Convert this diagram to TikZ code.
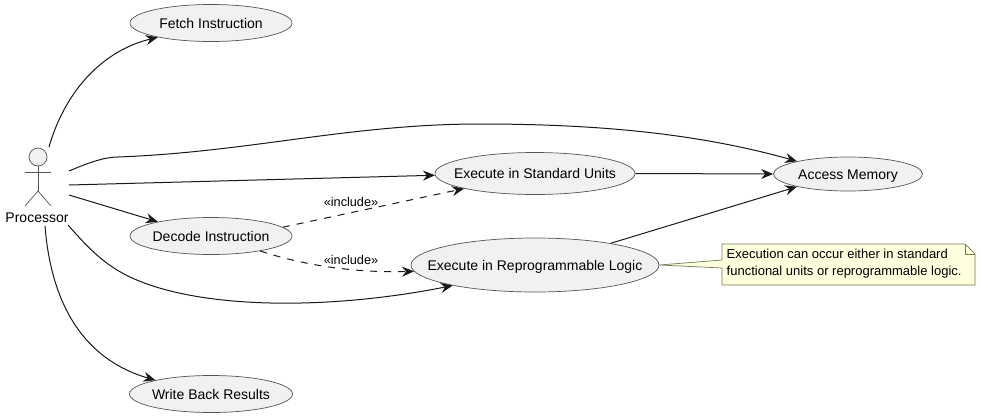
\documentclass[tikz,border=0pt]{standalone}
\usepackage{fontspec}
\setmainfont{Liberation Sans}
\usetikzlibrary{arrows.meta,shapes.geometric}
\definecolor{ucfill}{HTML}{F1F1F1}
\definecolor{ucline}{HTML}{555555}
\definecolor{notefill}{HTML}{FEFFDD}
\definecolor{noteline}{HTML}{777755}
\tikzset{
  usecase/.style={ellipse,draw=ucline,fill=ucfill,line width=0.7pt,inner sep=0pt,
    label={[inner sep=0pt,text height=10pt,text depth=0pt,font=\fontsize{14}{16}\selectfont,text=black]center:#1}},
  conn/.style={draw=black!90,line width=1pt,-{Stealth[length=12pt,width=10pt,inset=4pt]}},
  dconn/.style={conn,dash pattern=on 7pt off 7pt},
  stick/.style={draw=ucline,line width=0.7pt},
  lbl/.style={inner sep=0pt,font=\fontsize{12.7}{15}\selectfont,text=black},
}
\begin{document}
\begin{tikzpicture}[x=1pt,y=-1pt]
\useasboundingbox[fill=white] (0,0) rectangle (981,418);
% actor
\node[circle,draw=ucline,fill=ucfill,line width=0.7pt,minimum size=18pt,inner sep=0pt] (head) at (38,157) {};
\coordinate (hip) at (38,191);
\coordinate (armL) at (25,172);
\coordinate (armR) at (51,172);
\coordinate (legL) at (25,206);
\coordinate (legR) at (51,206);
\draw[stick] (head.south) -- (hip);
\draw[stick] (armL) -- (armR);
\draw[stick] (legL) -- (hip) -- (legR);
\node[inner sep=0pt,font=\fontsize{14}{16}\selectfont] (actor) at (37,217.5) {Processor};
% use cases
\node[usecase={Fetch Instruction},minimum width=162pt,minimum height=37pt] (fetch) at (211,23) {};
\node[usecase={Execute in Standard Units},minimum width=200pt,minimum height=42pt] (std) at (535,173.5) {};
\node[usecase={Access Memory},minimum width=149pt,minimum height=34pt] (mem) at (848,174) {};
\node[usecase={Decode Instruction},minimum width=162pt,minimum height=37pt] (decode) at (211,236) {};
\node[usecase={Execute in Reprogrammable Logic},minimum width=248pt,minimum height=54pt] (repro) at (535,265) {};
\node[usecase={Write Back Results},minimum width=163pt,minimum height=37pt] (wb) at (211,394) {};
% note
\coordinate (n1) at (722,244);
\coordinate (n2) at (965,244);
\coordinate (n3) at (975,254);
\coordinate (n4) at (975,285);
\coordinate (n5) at (722,285);
\coordinate (n6) at (722,268);
\coordinate (n7) at (722,260);
\draw[noteline,fill=notefill,line width=0.7pt,line join=round] (n1) -- (n2) -- (n3) -- (n4) -- (n5) -- (n6) -- (repro.east) -- (n7) -- cycle;
\draw[noteline,line width=0.7pt] (n2) -- (965,254) -- (n3);
\node[inner sep=0pt,font=\fontsize{13}{16.5}\selectfont,anchor=north west,align=left] (note) at (726.5,249) {Execution can occur either in standard\\functional units or reprogrammable logic.};
% free ends by the actor
\coordinate (a1) at (49,147);
\coordinate (a2) at (69,171);
\coordinate (a3) at (69,185);
\coordinate (a4) at (69,195);
\coordinate (a5) at (68,225);
\coordinate (a6) at (45,226);
% connectors
\draw[conn] (a1) .. controls (66,88) and (105,50) .. (fetch.195);
\draw[conn] (a2) .. controls (88,163) and (104,157) .. (118,157) .. controls (250,152) and (350,124) .. (480,124) .. controls (600,124) and (700,134) .. (mem.166);
\draw[conn] (a3) -- (std.181);
\draw[conn] (a4) -- (decode.165);
\draw[conn] (a5) .. controls (90,250) and (105,265) .. (130,277) .. controls (200,310) and (330,310) .. (repro.194);
\draw[conn] (a6) .. controls (52,315) and (92,362) .. (wb.166);
\draw[conn] (std.east) -- (mem.west);
\draw[conn] (repro.16) -- (mem.194);
\draw[dconn] (decode.7) -- (std.192);
\draw[dconn] (decode.343) .. controls (300,264) and (350,273) .. (repro.183);
\node[lbl] (lab1) at (351,202) {«include»};
\node[lbl] (lab2) at (351,260) {«include»};
\end{tikzpicture}
\end{document}
